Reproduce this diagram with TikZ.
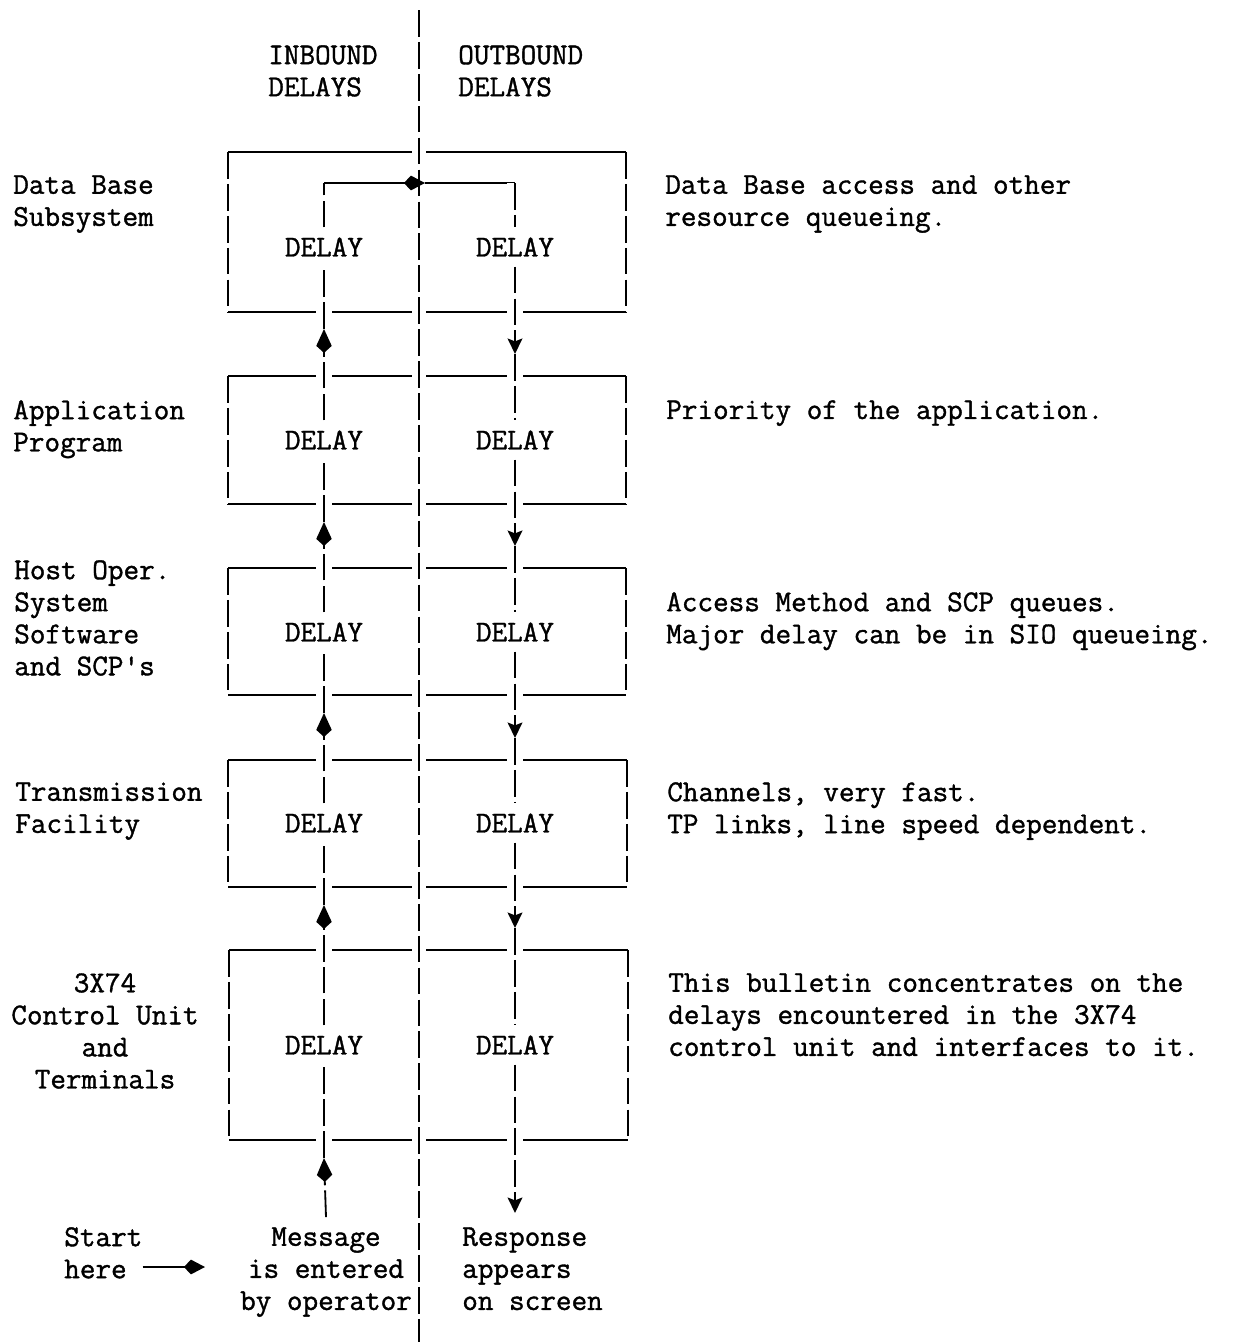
\documentclass[tikz,border=0pt]{standalone}
\usepackage{fontspec}
\setmonofont{Latin Modern Mono}[FakeBold=1.2]
\usetikzlibrary{arrows.meta}

\begin{document}
\begin{tikzpicture}[
  x=0.025cm,y=-0.025cm,
  font=\ttfamily\fontsize{21.55pt}{22.8pt}\selectfont,
  typed/.style={inner sep=0pt,align=left,anchor=north west},
  typedc/.style={inner sep=0pt,align=center,anchor=north},
  delay/.style={inner xsep=2pt,inner ysep=7pt},
  rule/.style={line width=1.3pt},
  bar/.style={line width=1.3pt,dash pattern=on 19pt off 3.7pt},
  flow/.style={bar,preaction={draw=white,solid,line width=11pt,-}},
  divider/.style={bar,preaction={draw=white,solid,line width=10pt}},
  upflow/.style={flow,-{Kite[length=17pt,width=11pt,inset=5pt]}},
  downflow/.style={flow,-{Stealth[length=11pt,width=10.5pt,inset=2pt]}},
  pointer/.style={rule,-{Kite[length=15pt,width=10.5pt,inset=5pt]}}
]
\useasboundingbox (0,0) rectangle (1232,1342);

\node[typed] (inhead) at (268,45) {INBOUND\\DELAYS};
\node[typed] (outhead) at (458,45) {OUTBOUND\\DELAYS};

\node[typed] (dbname) at (13,175) {Data Base\\Subsystem};
\node[typed] (appname) at (13,400) {Application\\Program};
\node[typed] (hostname) at (14,560) {Host Oper.\\System\\Software\\and SCP's};
\node[typed] (tpname) at (15,782) {Transmission\\Facility};
\node[typedc] (cuname) at (105,973) {3X74\\Control Unit\\and\\Terminals};

\node[typed] (dbnote) at (665,175) {Data Base access and other\\resource queueing.};
\node[typed] (appnote) at (666,400) {Priority of the application.};
\node[typed] (hostnote) at (666,592) {Access Method and SCP queues.\\Major delay can be in SIO queueing.};
\node[typed] (tpnote) at (667,782) {Channels, very fast.\\TP links, line speed dependent.};
\node[typed] (cunote) at (668,973) {This bulletin concentrates on the\\delays encountered in the 3X74\\control unit and interfaces to it.};

\draw[rule] (228,152) -- (626,152) (228,312) -- (626,312);
\draw[bar] (228,152) -- (228,312) (626,152) -- (626,312);
\draw[rule] (228,376) -- (626,376) (228,504) -- (626,504);
\draw[bar] (228,376) -- (228,504) (626,376) -- (626,504);
\draw[rule] (228,568) -- (626,568) (228,695) -- (626,695);
\draw[bar] (228,568) -- (228,695) (626,568) -- (626,695);
\draw[rule] (228,760) -- (627,760) (228,887) -- (627,887);
\draw[bar] (228,760) -- (228,887) (627,760) -- (627,887);
\draw[rule] (229,950) -- (628,950) (229,1140) -- (628,1140);
\draw[bar] (229,950) -- (229,1140) (628,950) -- (628,1140);

\coordinate (divtop) at (419,10);
\coordinate (divbottom) at (419,1342);
\draw[divider] (divtop) -- (divbottom);

\node[delay] (in1) at (324,247) {DELAY};
\node[delay] (out1) at (515,247) {DELAY};
\node[delay] (in2) at (324,440) {DELAY};
\node[delay] (out2) at (515,440) {DELAY};
\node[delay] (in3) at (324,632) {DELAY};
\node[delay] (out3) at (515,632) {DELAY};
\node[delay] (in4) at (324,823) {DELAY};
\node[delay] (out4) at (515,823) {DELAY};
\node[delay] (in5) at (324,1045) {DELAY};
\node[delay] (out5) at (515,1045) {DELAY};

\node[typed] (start) at (64,1227) {Start\\here};
\node[typedc] (msg) at (326,1227) {Message\\is entered\\by operator};
\node[typed] (resp) at (462,1227) {Response\\appears\\on screen};

\coordinate (ia5) at (324,1158);
\coordinate (ia4) at (324,905);
\coordinate (ia3) at (324,713);
\coordinate (ia2) at (324,522);
\coordinate (ia1) at (324,329);
\coordinate (intop) at (324,183);
\coordinate (turn) at (425,183);
\coordinate (outtop) at (515,183);
\coordinate (oa1) at (515,354);
\coordinate (oa2) at (515,546);
\coordinate (oa3) at (515,738);
\coordinate (oa4) at (515,928);
\coordinate (oa5) at (515,1213);
\coordinate (enter) at (205,1267);

\draw[upflow] ([yshift=7pt]msg.north) -- (ia5);
\draw[flow] (ia5) -- (in5.south);
\draw[upflow] (in5.north) -- (ia4);
\draw[flow] (ia4) -- (in4.south);
\draw[upflow] (in4.north) -- (ia3);
\draw[flow] (ia3) -- (in3.south);
\draw[upflow] (in3.north) -- (ia2);
\draw[flow] (ia2) -- (in2.south);
\draw[upflow] (in2.north) -- (ia1);
\draw[flow] (ia1) -- (in1.south);
\draw[flow] (in1.north) -- (intop);
\draw[pointer] (intop) -- (turn);
\draw[rule] (turn) -- (outtop);
\draw[flow] (outtop) -- (out1.north);
\draw[downflow] (out1.south) -- (oa1);
\draw[flow] (oa1) -- (out2.north);
\draw[downflow] (out2.south) -- (oa2);
\draw[flow] (oa2) -- (out3.north);
\draw[downflow] (out3.south) -- (oa3);
\draw[flow] (oa3) -- (out4.north);
\draw[downflow] (out4.south) -- (oa4);
\draw[flow] (oa4) -- (out5.north);
\draw[downflow] (out5.south) -- (oa5);

\draw[pointer] (start.south east |- enter) -- (enter);

\end{tikzpicture}
\end{document}
